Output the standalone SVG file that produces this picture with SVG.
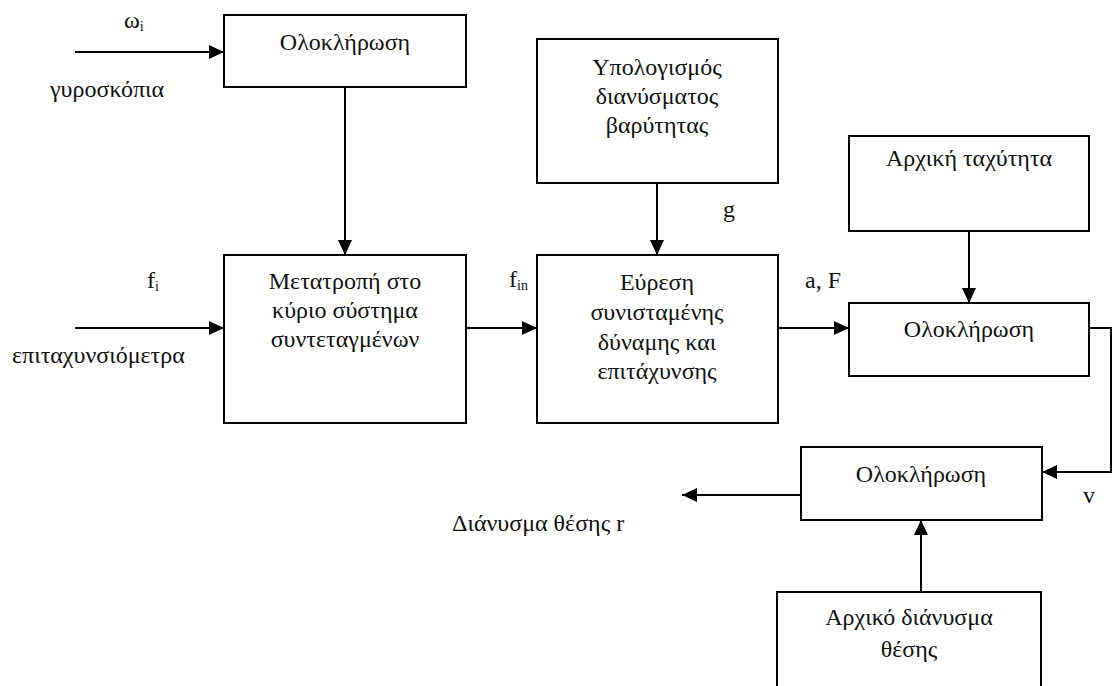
<svg xmlns="http://www.w3.org/2000/svg" width="1113" height="686" viewBox="0 0 1113 686">
  <style>
    .box { fill: #ffffff; stroke: #000000; stroke-width: 2; }
    .wire { fill: none; stroke: #000000; stroke-width: 2; }
    .t { font-family: "Liberation Serif", "DejaVu Serif", serif; font-size: 24px; fill: #111111; }
    .c { text-anchor: middle; }
    .sub { font-size: 14px; }
  </style>
  <defs>
    <marker id="arrow" markerUnits="userSpaceOnUse" markerWidth="16" markerHeight="16" refX="15" refY="7" orient="auto">
      <path d="M0,0 L15,7 L0,14 z" fill="#000000"/>
    </marker>
  </defs>
  <rect width="1113" height="686" fill="#ffffff"/>

  <!-- signal lines -->
  <g id="connectors">
    <line class="wire" x1="75" y1="52" x2="224" y2="52" marker-end="url(#arrow)"/>
    <line class="wire" x1="345" y1="87" x2="345" y2="255" marker-end="url(#arrow)"/>
    <line class="wire" x1="75" y1="328" x2="224" y2="328" marker-end="url(#arrow)"/>
    <line class="wire" x1="466" y1="328" x2="537" y2="328" marker-end="url(#arrow)"/>
    <line class="wire" x1="657" y1="183" x2="657" y2="255" marker-end="url(#arrow)"/>
    <line class="wire" x1="778" y1="328" x2="849" y2="328" marker-end="url(#arrow)"/>
    <line class="wire" x1="969" y1="231" x2="969" y2="303" marker-end="url(#arrow)"/>
    <polyline class="wire" points="1089,328 1111,328 1111,472 1042,472" marker-end="url(#arrow)"/>
    <line class="wire" x1="801" y1="495" x2="682" y2="495" marker-end="url(#arrow)"/>
    <line class="wire" x1="921" y1="592" x2="921" y2="520" marker-end="url(#arrow)"/>
  </g>

  <!-- blocks -->
  <g id="integrate-gyro">
    <rect class="box" x="224" y="15" width="242" height="72"/>
    <text class="t c" x="345" y="50">Ολοκλήρωση</text>
  </g>
  <g id="gravity">
    <rect class="box" x="537" y="39" width="241" height="144"/>
    <text class="t c" x="657" y="75">Υπολογισμός</text>
    <text class="t c" x="657" y="104">διανύσματος</text>
    <text class="t c" x="657" y="133">βαρύτητας</text>
  </g>
  <g id="frame-transform">
    <rect class="box" x="224" y="255" width="242" height="168"/>
    <text class="t c" x="345" y="289">Μετατροπή στο</text>
    <text class="t c" x="345" y="318">κύριο σύστημα</text>
    <text class="t c" x="345" y="347">συντεταγμένων</text>
  </g>
  <g id="resultant">
    <rect class="box" x="537" y="255" width="241" height="168"/>
    <text class="t c" x="657" y="290">Εύρεση</text>
    <text class="t c" x="657" y="320">συνισταμένης</text>
    <text class="t c" x="657" y="350">δύναμης και</text>
    <text class="t c" x="657" y="379">επιτάχυνσης</text>
  </g>
  <g id="initial-velocity">
    <rect class="box" x="849" y="136" width="240" height="95"/>
    <text class="t c" x="969" y="166">Αρχική ταχύτητα</text>
  </g>
  <g id="integrate-accel">
    <rect class="box" x="849" y="303" width="240" height="73"/>
    <text class="t c" x="969" y="337">Ολοκλήρωση</text>
  </g>
  <g id="integrate-velocity">
    <rect class="box" x="801" y="447" width="241" height="73"/>
    <text class="t c" x="921" y="482">Ολοκλήρωση</text>
  </g>
  <g id="initial-position">
    <rect class="box" x="777" y="592" width="264" height="110"/>
    <text class="t c" x="909" y="625">Αρχικό διάνυσμα</text>
    <text class="t c" x="909" y="657">θέσης</text>
  </g>

  <!-- signal labels -->
  <g id="labels">
    <text class="t" x="124" y="28">ω<tspan class="sub" dy="3">i</tspan></text>
    <text class="t" x="50" y="97">γυροσκόπια</text>
    <text class="t" x="147" y="288">f<tspan class="sub" dy="3">i</tspan></text>
    <text class="t" x="12" y="363">επιταχυνσιόμετρα</text>
    <text class="t" x="509" y="287">f<tspan class="sub" dy="3">in</tspan></text>
    <text class="t" x="723" y="217">g</text>
    <text class="t" x="805" y="288">a, F</text>
    <text class="t" x="1083" y="503">v</text>
    <text class="t" x="452" y="531">Διάνυσμα θέσης r</text>
  </g>
</svg>
